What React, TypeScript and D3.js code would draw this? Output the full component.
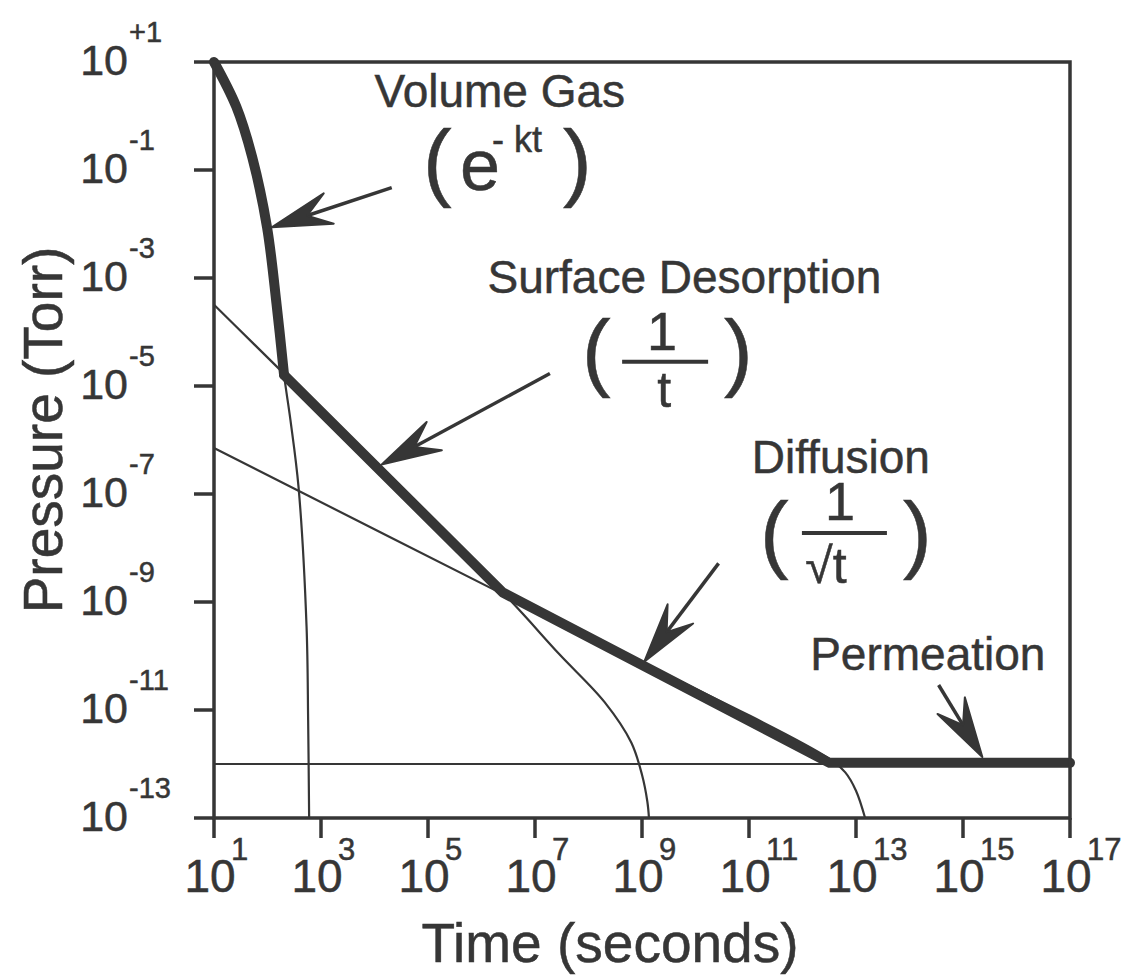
import * as d3 from "d3";

// axis ticks
const xTickValues = [1e1, 1e3, 1e5, 1e7, 1e9, 1e11, 1e13, 1e15, 1e17];
const xTickExps = ["1", "3", "5", "7", "9", "11", "13", "15", "17"];
const yTickValues = [1e1, 1e-1, 1e-3, 1e-5, 1e-7, 1e-9, 1e-11, 1e-13];
const yTickExps = ["+1", "-1", "-3", "-5", "-7", "-9", "-11", "-13"];

// [time (s), pressure (Torr)]
const volumeGas = [
  [10, 10], [26, 1.5], [52, 0.17], [98, 8.7e-3], [148, 3.2e-4], [204, 1.6e-5],
  [269, 2.3e-6], [380, 1.35e-7], [537, 3.5e-10], [575, 6.5e-12], [600, 1e-13],
];
const surfaceDesorption = [
  [10, 3.2e-4], [2.5e6, 1.5e-9], [2.8e7, 1.1e-10], [2e8, 1.4e-11],
  [6.3e8, 2.5e-12], [1e9, 6.3e-13], [1.26e9, 2e-13], [1.35e9, 1e-13],
];
const diffusion = [
  [10, 7.1e-7], [2.5e6, 1.4e-9], [3.0e12, 1.3e-12], [6.3e12, 7e-13],
  [1e13, 3.2e-13], [1.48e13, 1e-13],
];
const permeation = [[10, 1e-12], [1e17, 1e-12]];
// total (heavy) curve: first part follows the volume gas decay, then straight segments
const totalCurved = [[10, 10], [26, 1.5], [52, 0.17], [98, 8.7e-3], [148, 3.2e-4], [204, 1.6e-5]];
const totalStraight = [[204, 1.6e-5], [2.5e6, 1.5e-9], [3.2e12, 1.05e-12], [1e17, 1.05e-12]];

// annotation anchors in data coordinates
const labels = [
  { text: "Volume Gas", t: 2.2e6, p: 1.47 },
  { text: "Surface Desorption", t: 6.2e9, p: 5.2e-4 },
  { text: "Diffusion", t: 5.2e12, p: 2.5e-7 },
  { text: "Permeation", t: 2.2e14, p: 5.5e-11 },
];
const arrows = [
  { tail: [2.1e4, 4.7e-2], tip: [120, 8.7e-3] },
  { tail: [1.9e7, 1.7e-5], tip: [1.35e4, 3.5e-7] },
  { tail: [2.7e10, 5.2e-9], tip: [1.1e9, 7.8e-11] },
  { tail: [3.5e14, 2.9e-11], tip: [2.3e15, 1.35e-12] },
];
const expFormulaAt = [8.1e4, 4.3e-2];
const invTFormulaAt = [7.6e7, 1.3e-5];
const invSqrtFormulaAt = [1.6e11, 5.5e-9];

const W = 1133;
const H = 977;
const ink = "#363636";
const font = "'Liberation Sans', Arial, Helvetica, sans-serif";

export default function App() {
  const x = d3.scaleLog().domain([1e1, 1e17]).range([214, 1070]);
  const y = d3.scaleLog().domain([1e-13, 1e1]).range([818, 62]);

  const smooth = d3.line<number[]>()
    .x(d => x(d[0]))
    .y(d => y(d[1]))
    .curve(d3.curveCatmullRom.alpha(0.5));
  const straight = d3.line<number[]>()
    .x(d => x(d[0]))
    .y(d => y(d[1]));

  const [x0, x1] = x.range();
  const [yb, yt] = y.range();

  const arrow = (a: { tail: number[]; tip: number[] }, i: number) => {
    const tx = x(a.tail[0]), ty = y(a.tail[1]);
    const px = x(a.tip[0]), py = y(a.tip[1]);
    const ang = Math.atan2(py - ty, px - tx);
    const L = 60, hw = 16;
    const sx = px - Math.cos(ang) * L * 0.6;
    const sy = py - Math.sin(ang) * L * 0.6;
    return (
      <g key={i}>
        <line x1={tx} y1={ty} x2={sx} y2={sy} stroke={ink} strokeWidth={3.5} />
        <path
          transform={`translate(${px},${py}) rotate(${(ang * 180) / Math.PI})`}
          d={`M0,0 L${-L},${-hw} L${-0.62 * L},0 L${-L},${hw} Z`}
          fill={ink}
          stroke={ink}
          strokeWidth={2}
          strokeLinejoin="round"
        />
      </g>
    );
  };

  const e = [x(expFormulaAt[0]), y(expFormulaAt[1])];
  const f = [x(invTFormulaAt[0]), y(invTFormulaAt[1])];
  const g = [x(invSqrtFormulaAt[0]), y(invSqrtFormulaAt[1])];

  return (
    <svg
      width={W}
      height={H}
      style={{ position: "absolute", left: 0, top: 0, background: "#fff" }}
      fontFamily={font}
    >
      {/* thin component curves */}
      <g fill="none" stroke={ink} strokeWidth={2.2}>
        <path d={smooth(volumeGas) ?? ""} />
        <path d={smooth(surfaceDesorption) ?? ""} />
        <path d={smooth(diffusion) ?? ""} />
        <path d={straight(permeation) ?? ""} />
      </g>

      {/* total pump-down curve */}
      <g fill="none" stroke={ink} strokeWidth={10} strokeLinecap="round" strokeLinejoin="round">
        <path d={smooth(totalCurved) ?? ""} />
        <path d={straight(totalStraight) ?? ""} />
      </g>

      {/* frame */}
      <rect x={x0} y={yt} width={x1 - x0} height={yb - yt} fill="none" stroke={ink} strokeWidth={3.5} />

      <g fill={ink} stroke={ink} strokeWidth={0.5}>
        {/* y ticks */}
        {yTickValues.map((v, i) => (
          <g key={"y" + i}>
            <line x1={x0 - 20} x2={x0} y1={y(v)} y2={y(v)} strokeWidth={3.5} />
            <text x={128} y={y(v) + 13} fontSize={43} textAnchor="end">10</text>
            <text x={129} y={y(v) - 20} fontSize={29}>{yTickExps[i]}</text>
          </g>
        ))}

        {/* x ticks */}
        {xTickValues.map((v, i) => (
          <g key={"x" + i}>
            <line x1={x(v)} x2={x(v)} y1={yb} y2={yb + 20} strokeWidth={3.5} />
            <text x={x(v) - 4} y={892} fontSize={46} textAnchor="middle">10</text>
            <text x={x(v) + 17} y={860} fontSize={31}>{xTickExps[i]}</text>
          </g>
        ))}

        {/* axis titles */}
        <text x={610} y={962} fontSize={55} textAnchor="middle">Time (seconds)</text>
        <text transform="translate(62,430) rotate(-90)" fontSize={55} textAnchor="middle">
          Pressure (Torr)
        </text>

        {/* labels */}
        {labels.map((l, i) => (
          <text key={"l" + i} x={x(l.t)} y={y(l.p)} fontSize={46} textAnchor="middle">
            {l.text}
          </text>
        ))}

        {/* ( e^-kt ) */}
        <text x={e[0]} y={e[1]} fontSize={86}>(</text>
        <text x={e[0] + 37} y={e[1]} fontSize={72}>e</text>
        <text x={e[0] + 69} y={e[1] - 38} fontSize={36}>- kt</text>
        <text x={e[0] + 140} y={e[1]} fontSize={86}>)</text>

        {/* ( 1 / t ) */}
        <text x={f[0]} y={f[1]} fontSize={86}>(</text>
        <text x={f[0] + 80} y={f[1] - 30} fontSize={54} textAnchor="middle">1</text>
        <line x1={f[0] + 40} x2={f[0] + 126} y1={f[1] - 18} y2={f[1] - 18} strokeWidth={4} />
        <text x={f[0] + 82} y={f[1] + 27} fontSize={50} textAnchor="middle">t</text>
        <text x={f[0] + 142} y={f[1]} fontSize={86}>)</text>

        {/* ( 1 / sqrt t ) */}
        <text x={g[0]} y={g[1]} fontSize={86}>(</text>
        <text x={g[0] + 80} y={g[1] - 42} fontSize={54} textAnchor="middle">1</text>
        <line x1={g[0] + 42} x2={g[0] + 127} y1={g[1] - 29} y2={g[1] - 29} strokeWidth={4} />
        <text x={g[0] + 66} y={g[1] + 21} fontSize={50} textAnchor="middle">√t</text>
        <text x={g[0] + 143} y={g[1]} fontSize={86}>)</text>
      </g>

      {arrows.map(arrow)}
    </svg>
  );
}
